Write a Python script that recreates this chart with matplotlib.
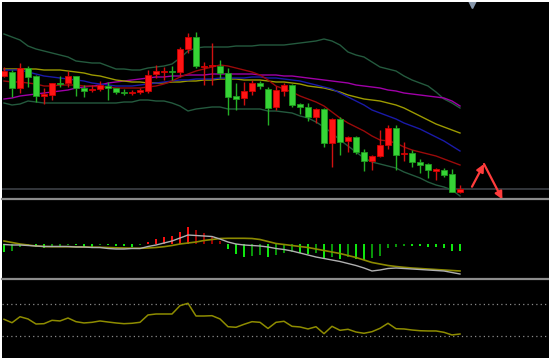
import numpy as np
import matplotlib
matplotlib.use("Agg")
import matplotlib.pyplot as plt
from matplotlib.lines import Line2D

# ---- price data (58 bars) ----
opens = [129, 112, 132, 123, 104, 106, 117, 116, 124, 112, 109, 111, 115, 112, 108, 107, 108, 110, 125, 129,
         129, 128, 151, 163, 134, 134, 135, 127, 103, 101, 109, 117, 114, 92, 110, 115, 95, 93, 83, 91,
         57, 81, 58, 63, 48, 39, 44, 55, 72, 45, 47, 38, 35, 30, 31, 25, 8, 11]
highs = [133, 130, 137, 134, 125, 112, 117, 124, 129, 124, 115, 115, 119, 118, 112, 111, 110, 112, 130, 135,
         133, 134, 153, 167, 168, 138, 157, 140, 132, 117, 118, 120, 119, 113, 114, 117, 116, 97, 97, 92,
         92, 82, 83, 64, 64, 51, 45, 70, 75, 75, 58, 50, 41, 37, 32, 32, 31, 15]
lows = [123, 103, 107, 113, 98, 96, 100, 113, 113, 104, 103, 108, 109, 100, 106, 105, 105, 106, 107, 122,
        120, 120, 123, 147, 132, 115, 115, 122, 85, 90, 95, 105, 111, 75, 90, 104, 93, 86, 79, 77,
        53, 33, 45, 48, 46, 29, 30, 43, 51, 30, 39, 33, 27, 22, 20, 23, 8, 7]
closes = [124, 128, 112, 132, 124, 104, 105, 117, 117, 124, 112, 110, 111, 114, 112, 108, 107, 108, 109, 126,
          128, 129, 128, 151, 163, 133, 134, 134, 127, 104, 102, 109, 117, 111, 93, 109, 115, 96, 93, 83,
          91, 57, 81, 59, 63, 48, 39, 44, 55, 72, 46, 47, 38, 36, 29, 30, 26, 8]

bb_upper = [166, 163, 160, 154, 151, 149, 147, 145, 143, 139, 138, 137, 137, 134, 131, 131, 130, 130, 132, 133,
            134, 136, 142, 149, 152, 153, 153, 153, 153, 154, 154, 154, 155, 155, 155, 155, 156, 157, 158, 159,
            161, 159, 155, 148, 145, 143, 138, 133, 131, 129, 124, 120, 117, 114, 108, 101, 97, 92]
bb_lower = [97, 95, 96, 99, 98, 97, 97, 97, 97, 97, 97, 97, 97, 97, 97, 98, 98, 100, 100, 99,
            99, 97, 94, 89, 91, 92, 93, 93, 91, 91, 91, 91, 91, 89, 89, 88, 87, 84, 82, 78,
            73, 67, 60, 54, 48, 42, 38, 36, 34, 32, 28, 25, 22, 18, 15, 13, 10, 4]
ma_red = [119, 118, 118, 117, 116, 114, 114, 115, 115, 115, 114, 114, 113, 113, 112, 112, 112, 112, 113, 114,
          116, 119, 123, 126, 129, 131, 133, 135, 134, 132, 130, 128, 125, 120, 114, 111, 108, 104, 101, 98,
          94, 88, 82, 77, 73, 69, 64, 60, 59, 57, 53, 50, 48, 46, 44, 41, 38, 35]
ma_blue = [130, 130, 130, 128, 126, 124, 123, 122, 121, 120, 119, 117, 116, 115, 114, 114, 114, 115, 116, 117,
           118, 119, 120, 120, 121, 121, 121, 122, 122, 122, 122, 123, 123, 122, 122, 121, 120, 119, 117, 115,
           113, 111, 107, 103, 99, 95, 90, 87, 84, 81, 77, 74, 71, 67, 63, 59, 54, 49]
ma_olive = [131, 131, 131, 131, 131, 130, 130, 130, 129, 128, 127, 125, 124, 122, 120, 119, 118, 118, 117, 117,
            117, 118, 118, 119, 119, 120, 120, 121, 121, 121, 120, 120, 120, 119, 118, 118, 117, 116, 114, 113,
            112, 110, 108, 105, 103, 101, 100, 99, 97, 95, 92, 88, 84, 80, 76, 73, 70, 67]
ma_purple = [101, 102, 104, 105, 106, 107, 108, 109, 110, 112, 113, 114, 115, 117, 118, 119, 120, 121, 122, 123,
             123, 124, 124, 125, 125, 125, 126, 126, 126, 126, 126, 126, 125, 125, 125, 124, 124, 123, 122, 121,
             120, 119, 118, 117, 115, 114, 113, 112, 110, 109, 107, 106, 105, 104, 103, 102, 99, 94]
level_line = 11.5

# ---- MACD panel ----
macd_hist = [-8, -7, -3, -2, -3, -4, -3, -2, -1, -1, -3, -3, -1, -1, -2, -2, -3, -1, 2.3, 5,
             6.7, 7.7, 11.7, 16.7, 14, 10.7, 7.3, 3, -5, -10.3, -12.7, -11.7, -11, -12.7, -11, -9, -7.7, -8.7, -10.3, -9.3,
             -15, -12.7, -15, -12.7, -15, -16, -14.3, -11.7, -3.7, -3.3, -1.7, -2, -2, -2.7, -3.3, -3.7, -6.7, -7]
macd_main = [-0.5, -1, -1, -1.5, -2, -2.5, -2.5, -2.5, -2.5, -3, -3, -3.5, -3.5, -4.5, -5, -5, -4.5, -4.5, -2.5, -1,
             1, 3, 6, 9, 8.5, 8, 7.5, 5, 2, 0, -1, -1.5, -2, -3, -4.5, -5.5, -7, -9, -11, -13,
             -14.5, -16, -17.5, -19.5, -21.5, -24, -27, -26, -24.5, -24, -24.5, -25, -25.5, -26, -26.5, -27, -28.5, -30]
macd_signal = [3, 1.5, 0, -1, -2, -2.5, -2.7, -2.7, -2.7, -2.8, -3, -3.2, -3.3, -3.5, -3.8, -4, -4.2, -4.3, -4, -3.5,
               -2.7, -1.5, 0, 1, 2, 3.5, 4.5, 5.5, 5.7, 5.7, 5.7, 5.5, 4.5, 2.5, 0.5, -0.5, -1.5, -2.5, -3.5, -5,
               -6.5, -8, -9.5, -11.5, -13.5, -16, -18.5, -20, -21.5, -22.5, -23.3, -24, -24.5, -25, -25.5, -26, -26.5, -27]

# ---- oscillator panel ----
osc = [50.9, 46.6, 54.1, 51.3, 45.0, 45.4, 49.6, 48.8, 52.5, 47.9, 46.3, 47.1, 48.8, 47.5, 46.3, 45.4, 45.9, 47.1, 56.3, 57.5,
       57.5, 57.5, 67.9, 70.9, 55.0, 55.0, 55.4, 51.3, 41.6, 40.9, 44.6, 47.9, 47.1, 39.4, 47.1, 48.4, 42.1, 41.3, 38.8, 41.6,
       32.9, 42.1, 37.1, 38.4, 35.0, 33.4, 35.4, 39.6, 45.9, 39.1, 38.8, 37.5, 36.6, 36.3, 36.3, 34.6, 31.3, 32.5]
osc_levels = [70, 30]

# ---- signal arrows (bar index, price) ----
sig_x = [58.5, 60.0, 62.3]
sig_y = [13.3, 36.0, 0.5]
marker_x = 58.5

W, H = 549, 358
fig = plt.figure(figsize=(W / 100, H / 100), dpi=100, facecolor="white")


def box(top, bottom):
    return [2 / W, 1 - bottom / H, (W - 2) / W, (bottom - top) / H]


ax = fig.add_axes(box(2, 200))
ax2 = fig.add_axes(box(200, 279))
ax3 = fig.add_axes(box(279, 358))
xlim = ((2 - 4) / 8, (W - 4) / 8)
for a in (ax, ax2, ax3):
    a.set_facecolor("black")
    a.set_xlim(*xlim)
    a.set_xticks([])
    a.set_yticks([])
    for s in a.spines.values():
        s.set_visible(False)

x = np.arange(len(opens))
o = np.array(opens, float)
c = np.array(closes, float)
up = c >= o

# main panel
ax.set_ylim(0, 198)
ax.axhline(level_line, color="#34373c", lw=1.4, zorder=1)
ax.plot(x, bb_upper, color="#245a3e", lw=1.0, zorder=2)
ax.plot(x, bb_lower, color="#245a3e", lw=1.0, zorder=2)
ax.plot(x, ma_purple, color="#a000a8", lw=1.0, zorder=2)
ax.plot(x, ma_olive, color="#9c9a00", lw=1.0, zorder=2)
ax.plot(x, ma_blue, color="#1a1aa8", lw=1.0, zorder=2)
ax.plot(x, ma_red, color="#9a0a0a", lw=1.0, zorder=2)

wick_col = np.where(up, "#24b024", "#d01010")
ax.vlines(x, lows, highs, colors=wick_col, lw=1.0, zorder=3)
body_lo = np.minimum(o, c)
body_h = np.maximum(np.abs(c - o), 1.0)
ax.bar(x[up], body_h[up], bottom=body_lo[up], width=0.66, color="#36d436",
       edgecolor="#1f9a1f", lw=0.6, zorder=4)
ax.bar(x[~up], body_h[~up], bottom=body_lo[~up], width=0.66, color="#ff1414",
       edgecolor="#d00000", lw=0.6, zorder=4)

for i in range(len(sig_x) - 1):
    ax.annotate("", xy=(sig_x[i + 1], sig_y[i + 1]), xytext=(sig_x[i], sig_y[i]),
                arrowprops=dict(arrowstyle="-|>", color="#ff3c3c", lw=1.6,
                                mutation_scale=11, shrinkA=0, shrinkB=0),
                annotation_clip=False, zorder=6)
ax.plot([marker_x], [198], marker="v", ms=9, color="#8797ab", zorder=6)

# MACD panel
ax2.set_ylim(-35, 44)
h = np.array(macd_hist)
grow = np.abs(h) >= np.abs(np.concatenate([[0], h[:-1]]))
hcol = np.where(h >= 0, np.where(grow, "#ff1010", "#a00000"),
                np.where(grow, "#10ee10", "#0a9a0a"))
ax2.vlines(x, 0, h, colors=hcol, lw=1.4, zorder=2)
ax2.plot(x, macd_signal, color="#8c8a00", lw=1.2, zorder=3)
ax2.plot(x, macd_main, color="#b0b0b0", lw=1.0, zorder=4)

# oscillator panel
ax3.set_ylim(2.5, 101.25)
for lv in osc_levels:
    ax3.axhline(lv, color="#8a8a8a", lw=0.9, ls=(0, (1, 2.5)), zorder=1)
ax3.plot(x, osc, color="#8e8c00", lw=1.1, zorder=2)

# panel separators
for yp in (199.5, 279.0):
    fig.add_artist(Line2D([2 / W, 1], [1 - yp / H] * 2, color="#8c8c8c", lw=1.6,
                          transform=fig.transFigure, zorder=10))

fig.savefig("out.png", dpi=100, facecolor=fig.get_facecolor())
